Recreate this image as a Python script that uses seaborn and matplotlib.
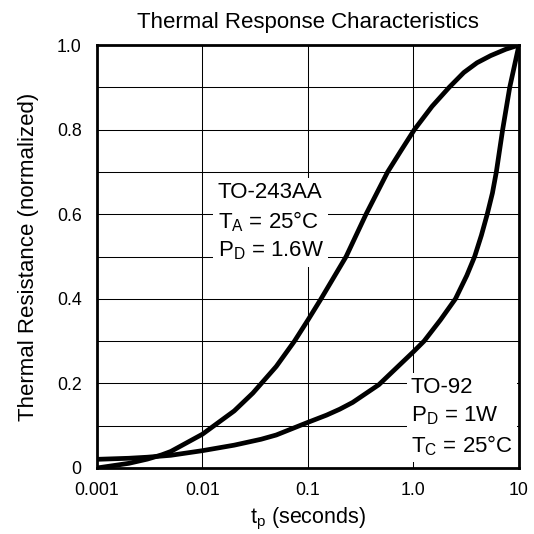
import numpy as np
import pandas as pd
import seaborn as sns
import matplotlib.pyplot as plt


# values (x in seconds, y normalized)
to243_t = [0.001, 0.002, 0.003, 0.0041, 0.005, 0.01, 0.02, 0.03, 0.05, 0.0745,
           0.1, 0.133, 0.23, 0.355, 0.569, 0.76, 1.02, 1.5, 2.18, 3.0, 4.0,
           5.4, 7.5, 10.0]
to243_r = [0.0, 0.011, 0.021, 0.031, 0.039, 0.08, 0.135, 0.177, 0.24, 0.3,
           0.35, 0.4, 0.5, 0.6, 0.7, 0.75, 0.8, 0.855, 0.9, 0.935, 0.958,
           0.975, 0.99, 1.0]

to92_t = [0.001, 0.002, 0.003, 0.005, 0.01, 0.02, 0.036, 0.05, 0.1, 0.15, 0.2,
          0.265, 0.47, 1.0, 1.26, 1.8, 2.5, 3.2, 3.8, 4.4, 5.0, 5.6, 6.1, 7.0,
          8.17, 10.0]
to92_r = [0.0205, 0.023, 0.0255, 0.03, 0.041, 0.054, 0.068, 0.078, 0.108,
          0.125, 0.139, 0.155, 0.197, 0.275, 0.3, 0.35, 0.4, 0.455, 0.5, 0.55,
          0.6, 0.65, 0.7, 0.8, 0.9, 1.0]

x_ticks = [0.001, 0.01, 0.1, 1.0, 10]
x_tick_labels = ["0.001", "0.01", "0.1", "1.0", "10"]
y_ticks = [0, 0.2, 0.4, 0.6, 0.8, 1.0]
y_tick_labels = ["0", "0.2", "0.4", "0.6", "0.8", "1.0"]

df = pd.DataFrame(
    {
        "t": to243_t + to92_t,
        "r": to243_r + to92_r,
        "device": ["TO-243AA"] * len(to243_t) + ["TO-92"] * len(to92_t),
    }
)

sns.set_theme(style="white")
plt.rcParams["font.family"] = ["Liberation Sans", "DejaVu Sans"]
plt.rcParams["mathtext.fontset"] = "custom"
plt.rcParams["mathtext.rm"] = "Liberation Sans"
plt.rcParams["text.color"] = "black"
plt.rcParams["axes.labelcolor"] = "black"

fig = plt.figure(figsize=(5.34, 5.34), dpi=100)
ax = fig.add_axes([0.1816, 0.1236, 0.7903, 0.7921])

sns.lineplot(
    data=df, x="t", y="r", hue="device", palette=["black", "black"],
    linewidth=3.4, legend=False, ax=ax, zorder=5, sort=False,
)

ax.set_xscale("log")
ax.set_xlim(0.001, 10)
ax.set_ylim(0, 1.0)
ax.set_xticks(x_ticks)
ax.set_xticklabels(x_tick_labels)
ax.set_yticks(y_ticks)
ax.set_yticklabels(y_tick_labels)
ax.set_yticks(np.arange(0.1, 1.0, 0.2), minor=True)
ax.xaxis.set_minor_locator(plt.NullLocator())
ax.tick_params(which="both", length=0, labelsize=12.8, colors="black")
ax.tick_params(axis="y", pad=11)
ax.tick_params(axis="x", pad=10)
ax.grid(True, which="both", color="black", linewidth=0.75)

for s in ax.spines.values():
    s.set_color("black")
    s.set_linewidth(2)

ax.set_title("Thermal Response Characteristics", fontsize=16, pad=12)
ax.set_xlabel(r"t$_\mathregular{p}$ (seconds)", fontsize=15.5, labelpad=5)
ax.set_ylabel("Thermal Resistance (normalized)", fontsize=16, labelpad=13)

box = dict(facecolor="white", edgecolor="none", pad=3)
ax.text(0.0139, 0.5816,
        "TO-243AA\nT$_\\mathregular{A}$ = 25°C\nP$_\\mathregular{D}$ = 1.6W",
        fontsize=16, va="center", ha="left", linespacing=1.35, bbox=box, zorder=3)
ax.text(0.946, 0.1194,
        "TO-92\nP$_\\mathregular{D}$ = 1W\nT$_\\mathregular{C}$ = 25°C",
        fontsize=16, va="center", ha="left", linespacing=1.35, bbox=box, zorder=3)

fig.savefig("out.png", dpi=100)
